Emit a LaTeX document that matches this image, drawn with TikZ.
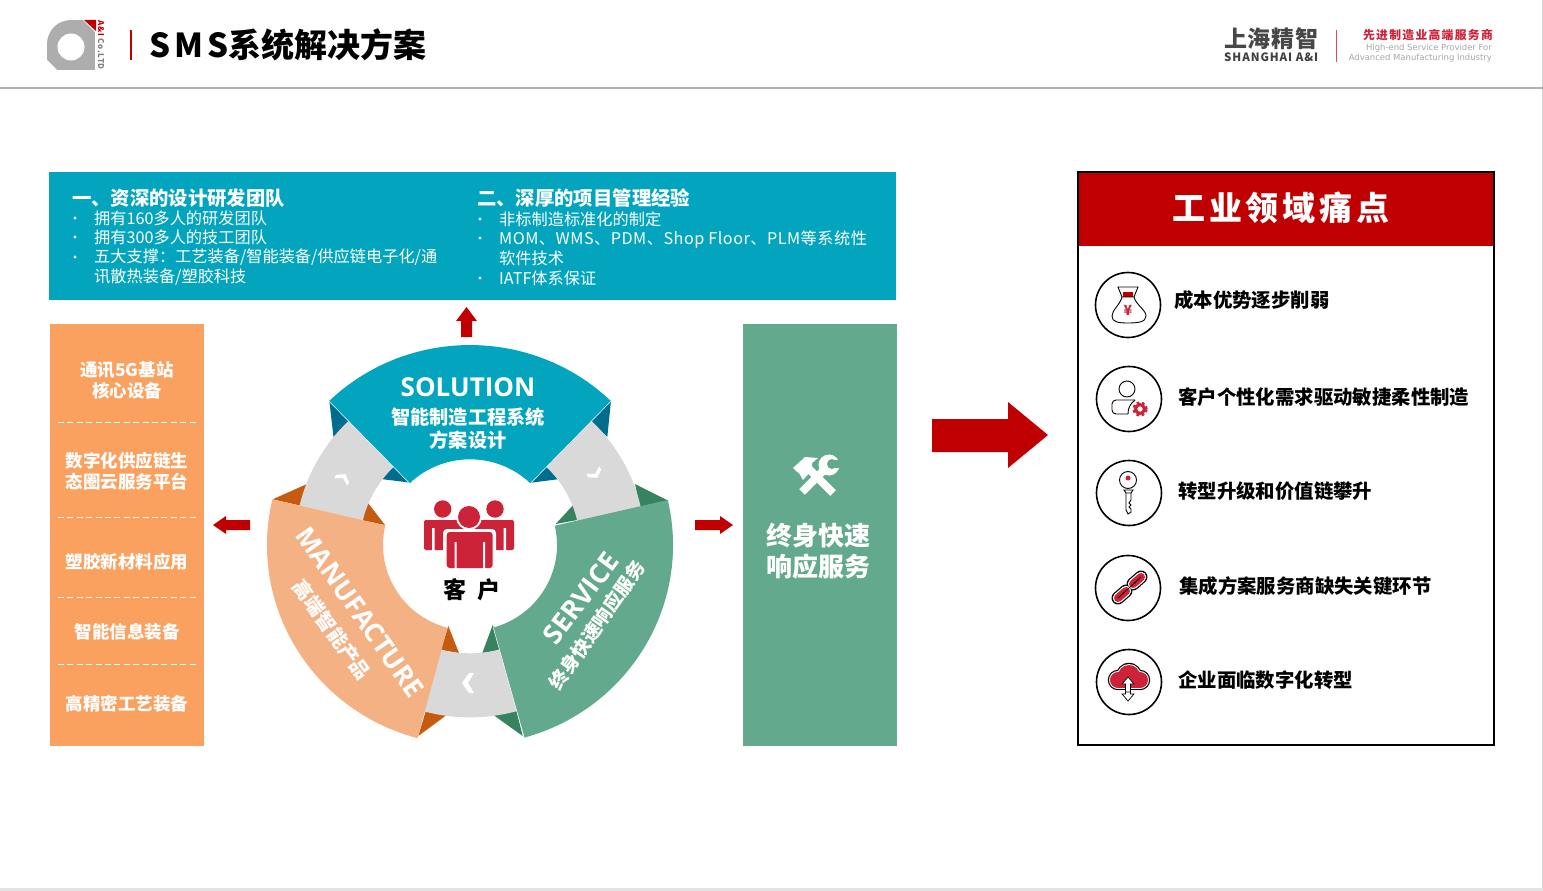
\documentclass[tikz,border=0pt]{standalone}
\usepackage{fontspec}
\setmainfont{Noto Sans CJK SC}
\newfontfamily\dejafont{DejaVu Sans}
\newfontfamily\latinfont{Open Sans}
\usetikzlibrary{positioning}
\definecolor{tealbox}{HTML}{02A5BD}
\definecolor{tealfold}{HTML}{006C8E}
\definecolor{orangebox}{HTML}{FBA160}
\definecolor{orangesec}{HTML}{F4B183}
\definecolor{orangefold}{HTML}{C55A11}
\definecolor{greenbox}{HTML}{62A98D}
\definecolor{greenfold}{HTML}{37825F}
\definecolor{ringgray}{HTML}{D9D9D9}
\definecolor{darkred}{HTML}{C00000}
\definecolor{crimson}{HTML}{CC2338}
\newcommand{\fs}[1]{\fontsize{#1}{#1}\selectfont}
\newcommand{\ringsector}[3]{\fill[#1] (#2:87pt) -- (#2:203pt) arc[start angle=#2,end angle=#3,radius=203pt] -- (#3:87pt) arc[start angle=#3,end angle=#2,radius=87pt] -- cycle;}
\newcommand{\ringchevron}[4]{\fill[white,shift={(#1,#2)},rotate=#3,scale=#4] (-6,0) -- (1,-10) -- (6,-10) -- (0,0) -- (6,10) -- (1,10) -- cycle;}
\tikzset{
  txt/.style={inner sep=0pt,text=white},
  headtxt/.style={txt,anchor=west,font=\fs{19.35}\bfseries},
  itemtxt/.style={txt,anchor=west,font=\fs{16.2}},
  sidetxt/.style={txt,align=center,font=\fs{17.5}\bfseries},
  paintxt/.style={inner sep=0pt,anchor=west,text=black,font=\fs{19.4}\bfseries},
  paincircle/.style={circle,draw=black,line width=1.6pt,minimum size=65pt,inner sep=0pt},
  icon/.style={draw=black,line width=.9pt},
}
\begin{document}
\begin{tikzpicture}[x=1pt,y=1pt]
\useasboundingbox (0,0) rectangle (1543,-891);
\fill[white] (0,0) rectangle (1543,-891);
\fill[gray!35] (1541.8,0) rectangle (1543,-888);
\fill[gray!22] (0,-888) rectangle (1543,-891);
% header
\fill[black!30] (0,-87) rectangle (1543,-88.6);
\fill[black!32] (71,-44) circle (24pt);
\fill[black!32] (71,-20) rectangle (95,-70);
\fill[black!32] (47,-44) rectangle (71,-70);
\fill[white] (46,-59) -- (46,-71) -- (58,-71) -- cycle;
\fill[white] (71,-47) circle (13.5pt);
\fill[white] (82,-19) -- (96,-19) -- (96,-33) -- cycle;
\fill[darkred] (84,-20) -- (96,-20) -- (96,-31) -- cycle;
\node[inner sep=0pt,rotate=-90,anchor=west,font=\fs{8}\bfseries\addfontfeature{LetterSpace=9},text=black!50] (logotxt) at (101,-20) {{\color{darkred}A\&I} Co.LTD};
\fill[darkred] (129.5,-30) rectangle (132,-60);
\node[inner sep=0pt,anchor=west,text=black,font=\fs{33}\bfseries] (title) at (149,-45) {S\kern4pt M\kern4pt S系统解决方案};
\node[inner sep=0pt,anchor=west,text=black!72,font=\fs{23}\bfseries\addfontfeature{LetterSpace=3}] (cname) at (1224,-39) {上海精智};
\node[inner sep=0pt,anchor=west,text=black!75,font=\fs{11.5}\bfseries\addfontfeature{LetterSpace=8}] (cnameen) at (1224,-57) {SHANGHAI A\&I};
\fill[crimson!80] (1335.5,-30) rectangle (1337,-62);
\node[inner sep=0pt,anchor=east,text=crimson,font=\fs{11.8}\bfseries\addfontfeature{LetterSpace=11}] (slogan) at (1493,-35) {先进制造业高端服务商};
\node[inner sep=0pt,anchor=east,text=black!35,font=\dejafont\fs{8.45}] (sloganb) at (1492,-48) {High-end Service Provider For};
\node[inner sep=0pt,anchor=east,text=black!35,font=\dejafont\fs{8.45}] (sloganc) at (1492,-58) {Advanced Manufacturing Industry};
% teal box
\fill[tealbox] (49,-172) rectangle (896,-300);
\node[headtxt] (heada) at (72,-198) {一、资深的设计研发团队};
\node[itemtxt] (a1) at (94,-218) {拥有160多人的研发团队};
\node[itemtxt] (a2) at (94,-237) {拥有300多人的技工团队};
\node[itemtxt] (a3) at (94,-257) {五大支撑：工艺装备/智能装备/供应链电子化/通};
\node[itemtxt] (a4) at (94,-277) {讯散热装备/塑胶科技};
\foreach \y in {218,237,257} \fill[white] (75,-\y) circle (1.7pt);
\node[headtxt] (headb) at (477,-198) {二、深厚的项目管理经验};
\node[itemtxt] (b1) at (499,-219) {非标制造标准化的制定};
\node[itemtxt,font=\fs{16.2}\addfontfeature{LetterSpace=3}] (b2) at (499,-239.5) {MOM、WMS、PDM、Shop Floor、PLM等系统性};
\node[itemtxt] (b3) at (499,-258) {软件技术};
\node[itemtxt] (b4) at (499,-278) {IATF体系保证};
\foreach \y in {219,238,278} \fill[white] (480,-\y) circle (1.7pt);
% left box
\fill[orangebox] (50,-324) rectangle (204,-746);
\foreach \y in {422,517,597,664}
  \draw[white,line width=.8pt,dash pattern=on 6pt off 3.4pt] (58,-\y) -- (196,-\y);
\node[sidetxt] (l1) at (127,-380) {通讯5G基站\\[3.5pt]核心设备};
\node[sidetxt] (l2) at (127,-471) {数字化供应链生\\[3.5pt]态圈云服务平台};
\node[sidetxt] (l3) at (127,-561.5) {塑胶新材料应用};
\node[sidetxt] (l4) at (127,-631.5) {智能信息装备};
\node[sidetxt] (l5) at (127,-703.5) {高精密工艺装备};
% green box
\fill[greenbox] (743,-324) rectangle (897,-746);
\node[txt,align=center,font=\fs{26}\bfseries] (g1) at (818,-551.5) {终身快速\\[5pt]响应服务};
% tools
\draw[white,line width=8pt] (805,-465) -- (833,-493);
\fill[white] (793,-468) -- (805,-457) -- (818,-458) -- (812,-463) -- (812,-470) -- (803,-480) -- (799,-473) -- (797,-472) -- cycle;
\draw[white,line width=8pt] (829,-465) -- (802,-492);
\fill[white] (829,-465) circle (10.5pt);
\fill[greenbox] (832,-464) circle (5pt);
\fill[greenbox] (832,-460) rectangle (842,-468);
% red arrows
\fill[darkred] (461,-337) -- (461,-321) -- (456,-321) -- (466.5,-307) -- (477,-321) -- (472,-321) -- (472,-337) -- cycle;
\fill[darkred] (250,-520) -- (226,-520) -- (226,-516) -- (213,-525) -- (226,-534) -- (226,-530) -- (250,-530) -- cycle;
\fill[darkred] (695,-520) -- (720,-520) -- (720,-516) -- (733,-525) -- (720,-534) -- (720,-530) -- (695,-530) -- cycle;
\fill[darkred] (932,-419) -- (1008,-419) -- (1008,-402) -- (1048,-435) -- (1008,-468) -- (1008,-452) -- (932,-452) -- cycle;
% ring folds
\fill[tealfold] (329.3,-400.7) -- (350,-420) -- (333.5,-437) -- cycle;
\fill[tealfold] (410.7,-482.7) -- (395,-464) -- (381,-479) -- cycle;
\fill[tealfold] (611,-400.7) -- (590,-420) -- (607.3,-437) -- cycle;
\fill[tealfold] (531,-482.7) -- (546,-464) -- (560,-479) -- cycle;
\fill[orangefold] (272.7,-499.3) -- (307,-484) -- (302,-506) -- cycle;
\fill[orangefold] (385,-525) -- (368,-503) -- (361,-520) -- cycle;
\fill[orangefold] (448.3,-626) -- (459,-653) -- (441,-650) -- cycle;
\fill[orangefold] (418.3,-736) -- (448,-714) -- (426.7,-708) -- cycle;
\fill[greenfold] (668.3,-500.7) -- (635,-484) -- (640,-507) -- cycle;
\fill[greenfold] (555.7,-524) -- (575,-503) -- (581,-519.3) -- cycle;
\fill[greenfold] (492.7,-625) -- (482.3,-653) -- (502,-650) -- cycle;
\fill[greenfold] (522.7,-736) -- (492,-714) -- (515.7,-708) -- cycle;
% ring
\begin{scope}[shift={(470,-545)},yscale=.985]
  \fill[ringgray,even odd rule] (0,0) circle (175pt) (0,0) circle (110pt);
  \ringsector{tealbox}{46}{134}
  \ringsector{greenbox}{-74.5}{13}
  \ringsector{orangesec}{166.8}{255}
  \draw[white,line width=.5pt] (46:87pt) -- (46:203pt) (134:87pt) -- (134:203pt) (-74.5:87pt) -- (-74.5:203pt);
\end{scope}
\ringchevron{343}{-478}{-120}{.75}
\ringchevron{595}{-474}{120}{.75}
\ringchevron{468}{-683}{0}{1}
\node[txt,font=\latinfont\bfseries\fs{26}] (solution) at (468,-387) {SOLUTION};
\node[txt,align=center,font=\fs{19.2}\bfseries] (solutiontxt) at (468,-429) {智能制造工程系统\\[4pt]方案设计};
\node[txt,rotate=-55,font=\latinfont\bfseries\fs{26.5}] (manufacture) at (360,-612) {MANUFACTURE};
\node[txt,rotate=-54,font=\fs{19.5}\bfseries] (manufacturetxt) at (332,-630) {高端智能产品};
\node[txt,rotate=53,font=\latinfont\bfseries\fs{27}] (service) at (581,-598) {SERVICE};
\node[txt,rotate=55,font=\fs{19}\bfseries] (servicetxt) at (597,-625) {终身快速响应服务};
% customer
\fill[crimson] (442.7,-509) circle (8.7pt);
\fill[crimson] (495,-509) circle (8.7pt);
\fill[crimson,rounded corners=2pt] (424,-550) -- (424,-520) -- (514,-520) -- (514,-550) -- cycle;
\fill[white] (432,-528) rectangle (434.5,-551) (503.5,-528) rectangle (506,-551);
\fill[white,rounded corners=4pt] (443,-570) -- (443,-529) -- (496,-529) -- (496,-570) -- cycle;
\fill[white] (469,-517) circle (13pt);
\fill[crimson] (469,-517) circle (11pt);
\fill[crimson,rounded corners=3pt] (446.7,-568) -- (446.7,-532) -- (492.7,-532) -- (492.7,-568) -- cycle;
\fill[white] (454.5,-542) rectangle (456.5,-569) (483,-542) rectangle (485,-569);
\node[inner sep=0pt,text=black,font=\fs{23}\bfseries] (customer) at (472,-590) {客\hspace{.45em}户};
% right panel
\fill[white] (1078,-172) rectangle (1494,-745);
\fill[darkred] (1078,-172) rectangle (1494,-246);
\draw[black,line width=1.1pt] (1078,-172) rectangle (1494,-745);
\node[txt,font=\fs{33}\bfseries\addfontfeature{LetterSpace=12}] (paintitle) at (1281,-208) {工业领域痛点};
\node[paincircle] (c1) at (1128,-305) {};
\node[paincircle] (c2) at (1129,-399) {};
\node[paincircle] (c3) at (1129,-493) {};
\node[paincircle] (c4) at (1128,-588) {};
\node[paincircle] (c5) at (1129,-682) {};
\node[paintxt] (p1) at (1174,-300) {成本优势逐步削弱};
\node[paintxt] (p2) at (1178,-397) {客户个性化需求驱动敏捷柔性制造};
\node[paintxt] (p3) at (1178,-491) {转型升级和价值链攀升};
\node[paintxt] (p4) at (1179,-586) {集成方案服务商缺失关键环节};
\node[paintxt] (p5) at (1178,-680) {企业面临数字化转型};
% money bag
\fill[darkred] (1123,-292) rectangle (1133,-297);
\draw[icon] (1118,-287) -- (1138,-287) -- (1134,-297) -- (1122,-297) -- cycle;
\draw[icon] (1122,-297) .. controls (1120,-305) and (1112,-310) .. (1112,-316) .. controls (1112,-322) and (1118,-323) .. (1128,-323) .. controls (1138,-323) and (1146,-322) .. (1146,-316) .. controls (1146,-310) and (1136,-305) .. (1134,-297);
\node[inner sep=0pt,text=crimson,font=\fs{14}\bfseries] (yen) at (1128,-310) {¥};
% person and gear
\draw[icon] (1127,-389) circle (8pt);
\draw[icon,rounded corners=4pt] (1128,-414) -- (1112,-414) -- (1112,-400) -- (1135,-400);
\draw[icon] (1135,-400) .. controls (1130,-404) and (1128,-408) .. (1128,-414);
\draw[crimson,line width=2.6pt,dash pattern=on 2.6pt off 2.6pt] (1140,-409) circle (6.3pt);
\draw[crimson,line width=3pt] (1140,-409) circle (4.4pt);
% key
\draw[icon] (1128,-480) circle (8.5pt);
\fill[crimson] (1128,-478) circle (2.5pt);
\draw[icon] (1124,-490) -- (1133,-490) -- (1131,-493) -- (1126,-493) -- cycle;
\draw[icon] (1126,-493) -- (1126,-510) -- (1128,-514) -- (1131,-512) -- (1131,-509) -- (1129,-507) -- (1131,-505) -- (1129,-503) -- (1131,-500) -- (1131,-493);
% chain link
\foreach \w/\c in {13/black,10.5/white,8/crimson}{
  \draw[\c,line width=\w pt,line cap=round] (1118,-598) -- (1126,-591);
  \draw[\c,line width=\w pt,line cap=round] (1133,-584) -- (1141,-577);
}
\draw[black,line width=.8pt] (1118,-598) -- (1141,-577);
% cloud
\foreach \e/\c in {2.2/black,1/white,0/crimson}{
  \fill[\c] (1118,-680) circle ({8+\e});
  \fill[\c] (1129,-676) circle ({11+\e});
  \fill[\c] (1140,-680) circle ({8+\e});
  \fill[\c] (1118,{-680+\e}) rectangle (1140,{-688-\e});
}
\filldraw[fill=white,draw=black,line width=.7pt] (1128,-701) -- (1122,-694) -- (1125.5,-694) -- (1125.5,-686) -- (1130.5,-686) -- (1130.5,-694) -- (1134,-694) -- cycle;
\filldraw[fill=white,draw=black,line width=.7pt] (1128,-677) -- (1134,-684) -- (1130.5,-684) -- (1130.5,-692) -- (1125.5,-692) -- (1125.5,-684) -- (1122,-684) -- cycle;
\end{tikzpicture}
\end{document}
